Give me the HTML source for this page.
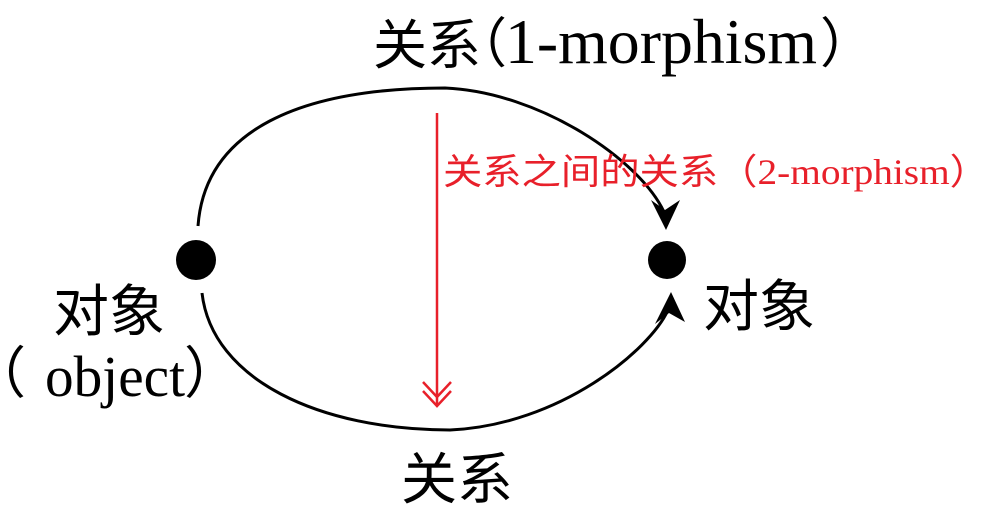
<!DOCTYPE html>
<html><head><meta charset="utf-8"><style>
html,body{margin:0;padding:0;background:#fff;width:994px;height:517px;overflow:hidden}
svg{display:block}
text{font-family:"Liberation Serif","Noto Sans CJK SC",serif}
.c{font-family:"Noto Sans CJK SC",sans-serif}
</style></head><body>
<svg width="994" height="517" viewBox="0 0 994 517">
<g fill="none" stroke="#000" stroke-width="3">
<path d="M198,226 C205,130 300,88 445,88 C540,92 640,160 664,212"/>
<path d="M202,293 C212,380 320,430 450,430 C560,425 650,350 668,310"/>
</g>
<path d="M666,230 L651,200 L665,210 L680,200 Z" fill="#000"/>
<path d="M671,292 L655,324 L669,313 L685,322 Z" fill="#000"/>
<circle cx="196" cy="260" r="20" fill="#000"/>
<circle cx="667" cy="260" r="19" fill="#000"/>
<g stroke="#e8202a" stroke-width="2.5" fill="none">
<line x1="437" y1="113" x2="437" y2="406"/>
<polyline points="423,382 437,397 451,382"/>
<polyline points="423,391 437,406 451,391"/>
</g>
<text class="c" x="373" y="64" font-size="54">关系</text>
<text class="c" x="453" y="62" font-size="54">（</text>
<text x="505" y="63" font-size="63" textLength="312" lengthAdjust="spacingAndGlyphs">1-morphism</text>
<text class="c" x="820" y="62" font-size="54">）</text>
<text x="443" y="184" font-size="36" fill="#e8202a" textLength="546" lengthAdjust="spacingAndGlyphs">关系之间的关系（2-morphism）</text>
<text class="c" x="53" y="331" font-size="56">对象</text>
<text class="c" x="-30" y="393" font-size="56">（</text>
<text x="45" y="396" font-size="58" textLength="140" lengthAdjust="spacingAndGlyphs">object</text>
<text class="c" x="184" y="393" font-size="56">）</text>
<text class="c" x="703" y="326" font-size="56">对象</text>
<text class="c" x="401" y="499" font-size="56">关系</text>
</svg>
</body></html>
